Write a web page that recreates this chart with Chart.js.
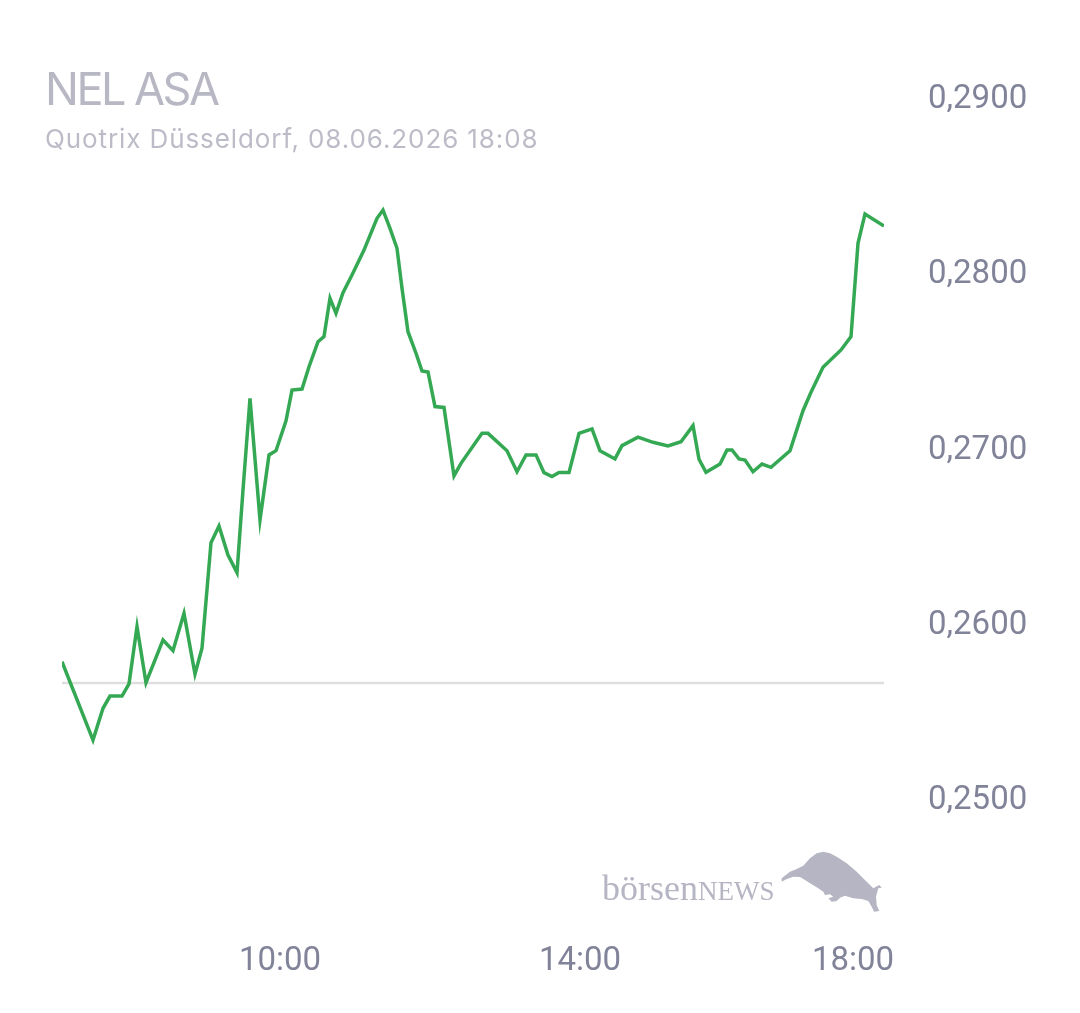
<!DOCTYPE html>
<html>
<head>
<meta charset="utf-8">
<script src="https://cdn.jsdelivr.net/npm/chart.js@4.4.1/dist/chart.umd.min.js"></script>
<style>
  html, body { margin: 0; padding: 0; background: #ffffff; }
  #wrap { position: relative; width: 1080px; height: 1013px; overflow: hidden; }
  #wrap canvas { position: absolute; left: 0; top: 0; }
  .txt { position: absolute; white-space: nowrap; line-height: 1; }
  #title { left: 45px; top: 66px; font-family: Inter, "Noto Sans", sans-serif; font-size: 45px; color: #b8b8c5; letter-spacing: -2.5px; }
  #subtitle { left: 45px; top: 126px; font-family: Inter, "Noto Sans", sans-serif; font-size: 26px; color: #bcbcc8; letter-spacing: 0.9px; }
  #logo1 { left: 602px; top: 870px; font-family: "Liberation Serif", "DejaVu Serif", serif; font-size: 36px; color: #b5b5c3; }
  #logo1 span { font-size: 27px; }
  #bull { position: absolute; left: 0; top: 0; pointer-events: none; }
</style>
</head>
<body>
<div id="wrap">
  <canvas id="c" width="1080" height="1013"></canvas>
  <div id="title" class="txt">NEL ASA</div>
  <div id="subtitle" class="txt">Quotrix Düsseldorf, 08.06.2026 18:08</div>
  <div id="logo1" class="txt">börsen<span>NEWS</span></div>
  <svg id="bull" width="1080" height="1013">
    <path fill="#b5b5c3" d="M781.7,878.3 L790,871.7 L796.7,869 L803.3,865.7 L810,858.3 L816.7,853.3 L823.3,851.7 L830,853.3 L836.7,856.7 L846.7,863.3 L856.7,871.7 L866.7,881.7 L873.3,888.3 L876,886.7 L879.3,885 L881.7,887.7 L878.3,888.3 L877.3,891.7 L876,896.7 L876.7,905 L879.3,911 L874,911.7 L871.7,906.7 L868.3,901 L861.7,899 L853.3,898.3 L845,895.7 L840,897.7 L836.7,901 L831.7,901.7 L828.3,898.3 L833.3,896.7 L830,894.3 L825,895 L823.3,891.7 L818.3,888.3 L811.7,884.3 L805,880 L800,877 L793.3,876.7 L786.7,879 L781.7,881.7 Z"/>
  </svg>
</div>
<script>
// ordinal trade position (x) and price (y)
const tradeIdx = [0, 31, 41, 48, 60, 67, 75, 84, 101, 111, 122, 133, 140, 149, 157, 166, 175, 181, 188, 198, 207, 214, 224, 230, 240, 247, 256, 262, 268, 274, 281, 290, 302, 315, 321, 328, 335, 340, 346, 354, 360, 366, 373, 382, 392, 399, 420, 426, 445, 455, 464, 474, 482, 490, 497, 507, 517, 530, 538, 553, 560, 576, 591, 606, 619, 631, 637, 644, 658, 665, 670, 677, 683, 691, 700, 709, 728, 741, 749, 761, 779, 789, 796, 803, 822];
const prices = [0.25772, 0.25325, 0.25506, 0.25576, 0.25576, 0.25645, 0.25972, 0.25652, 0.25896, 0.25835, 0.26048, 0.25702, 0.25849, 0.26451, 0.26546, 0.26381, 0.26280, 0.26752, 0.27275, 0.26581, 0.26952, 0.26976, 0.27147, 0.27322, 0.27328, 0.27455, 0.27598, 0.27627, 0.27846, 0.27760, 0.27878, 0.27979, 0.28121, 0.28302, 0.28349, 0.28245, 0.28131, 0.27903, 0.27655, 0.27532, 0.27431, 0.27425, 0.27228, 0.27223, 0.26832, 0.26904, 0.27075, 0.27075, 0.26976, 0.26856, 0.26952, 0.26952, 0.26851, 0.26828, 0.26851, 0.26851, 0.27075, 0.27100, 0.26976, 0.26929, 0.27005, 0.27053, 0.27024, 0.27003, 0.27027, 0.27119, 0.26927, 0.26853, 0.26900, 0.26980, 0.26980, 0.26929, 0.26923, 0.26856, 0.26900, 0.26881, 0.26976, 0.27204, 0.27309, 0.27452, 0.27551, 0.27627, 0.28159, 0.28327, 0.28258];
const prevClose = 0.2565;
const xTickIdx = [218, 518, 791];
const xTickLabels = ['10:00', '14:00', '18:00'];
const yTicks = [0.25, 0.26, 0.27, 0.28, 0.29];
const xRange = [0, 822];
const yRange = [0.245, 0.29];

const linePts = tradeIdx.map((x, i) => ({ x: x, y: prices[i] }));
const basePts = [{ x: xRange[0], y: prevClose }, { x: xRange[1], y: prevClose }];

new Chart(document.getElementById('c'), {
  type: 'line',
  data: {
    datasets: [
      { data: linePts, borderColor: '#34a853', borderWidth: 3.5, pointRadius: 0, tension: 0, fill: false, order: 0 },
      { data: basePts, borderColor: '#dedede', borderWidth: 2.5, pointRadius: 0, tension: 0, fill: false, order: 1 }
    ]
  },
  options: {
    responsive: false,
    animation: false,
    devicePixelRatio: 1,
    layout: { padding: { left: 62, top: 96, right: 0, bottom: 0 } },
    plugins: { legend: { display: false }, tooltip: { enabled: false }, title: { display: false } },
    scales: {
      x: {
        type: 'linear', min: xRange[0], max: xRange[1],
        grid: { display: false, drawTicks: false }, border: { display: false },
        afterBuildTicks: (s) => { s.ticks = xTickIdx.map(v => ({ value: v })); },
        afterFit: (s) => { s.height = 1013 - 884.6; },
        ticks: {
          autoSkip: false, maxRotation: 0, padding: 57,
          color: '#818399', font: { family: 'Roboto', size: 33 },
          callback: (v) => { const i = xTickIdx.indexOf(v); return i >= 0 ? xTickLabels[i] : ''; }
        }
      },
      y: {
        type: 'linear', position: 'right', min: yRange[0], max: yRange[1],
        grid: { display: false, drawTicks: false }, border: { display: false },
        afterBuildTicks: (s) => { s.ticks = yTicks.map(v => ({ value: v })); },
        afterFit: (s) => { s.width = 196; },
        ticks: {
          padding: 44, labelOffset: 4, color: '#818399', font: { family: 'Roboto', size: 33 },
          callback: (v) => v.toFixed(4).replace('.', ',')
        }
      }
    }
  }
});
</script>
</body>
</html>
